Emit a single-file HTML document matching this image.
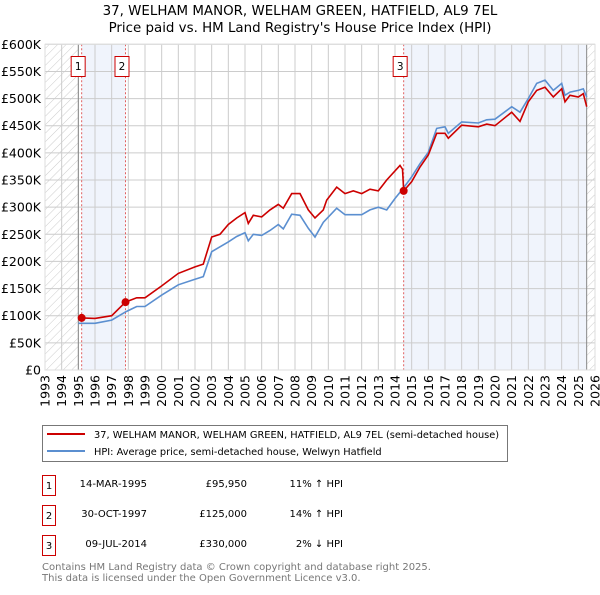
<!DOCTYPE html>
<html><head><meta charset="utf-8"><style>
body{margin:0;background:#fff;font-family:"Liberation Sans","DejaVu Sans",sans-serif;}
svg text{font-family:"DejaVu Sans","Liberation Sans",sans-serif;}
</style></head><body>
<svg id="c" width="600" height="590" xmlns="http://www.w3.org/2000/svg">
<defs><pattern id="h" width="6" height="6" patternUnits="userSpaceOnUse" patternTransform="rotate(45)"><line x1="0" y1="0" x2="0" y2="6" stroke="#ccc" stroke-width="1"/></pattern></defs>
<text x="300" y="15" text-anchor="middle" font-size="13.4">37, WELHAM MANOR, WELHAM GREEN, HATFIELD, AL9 7EL</text>
<text x="300" y="32" text-anchor="middle" font-size="13.4">Price paid vs. HM Land Registry's House Price Index (HPI)</text>
<g id="plot"></g>
<g>
<rect x="42.5" y="425.5" width="465" height="36" fill="#fff" stroke="#777"/>
<line x1="47" y1="434" x2="85" y2="434" stroke="#cc0000" stroke-width="2"/>
<text x="94" y="438" font-size="9.8">37, WELHAM MANOR, WELHAM GREEN, HATFIELD, AL9 7EL (semi-detached house)</text>
<line x1="47" y1="451" x2="85" y2="451" stroke="#5b8fd0" stroke-width="2"/>
<text x="94" y="455" font-size="9.8">HPI: Average price, semi-detached house, Welwyn Hatfield</text>
</g>
<g font-size="10">
<rect x="42.5" y="475.5" width="13" height="20" fill="none" stroke="#cc0000"/><text x="49" y="489" text-anchor="middle">1</text>
<text x="147" y="487" text-anchor="end">14-MAR-1995</text><text x="247" y="487" text-anchor="end">£95,950</text><text x="343" y="487" text-anchor="end">11% ↑ HPI</text>
<rect x="42.5" y="505.5" width="13" height="20" fill="none" stroke="#cc0000"/><text x="49" y="519" text-anchor="middle">2</text>
<text x="147" y="517" text-anchor="end">30-OCT-1997</text><text x="247" y="517" text-anchor="end">£125,000</text><text x="343" y="517" text-anchor="end">14% ↑ HPI</text>
<rect x="42.5" y="535.5" width="13" height="20" fill="none" stroke="#cc0000"/><text x="49" y="549" text-anchor="middle">3</text>
<text x="147" y="547" text-anchor="end">09-JUL-2014</text><text x="247" y="547" text-anchor="end">£330,000</text><text x="343" y="547" text-anchor="end">2% ↓ HPI</text>
</g>
<text x="42" y="570" font-size="10" fill="#777">Contains HM Land Registry data © Crown copyright and database right 2025.</text>
<text x="42" y="581" font-size="10" fill="#777">This data is licensed under the Open Government Licence v3.0.</text>
</svg>
<script>
const hpiYears=[1995,1996,1997,1997.83,1998.5,1999,2000,2001,2002,2002.5,2003,2004,2004.5,2005,2005.2,2005.5,2006,2006.5,2007,2007.3,2007.8,2008.3,2008.8,2009.2,2009.7,2010.5,2011,2012,2012.5,2013,2013.5,2014,2014.5,2015,2015.5,2016,2016.5,2017,2017.2,2018,2019,2019.5,2020,2021,2021.5,2022,2022.5,2023,2023.5,2024,2024.2,2024.5,2025,2025.3,2025.5];
const hpiValues=[86,86,92,107,117,117,138,157,167,172,218,236,246,253,238,250,248,257,268,260,287,285,261,245,272,298,286,286,295,300,295,316,335,356,380,401,445,448,436,457,455,461,462,485,475,500,528,534,515,528,506,512,515,518,503];
const propYears=[1995.2,1996,1997,1997.83,1998.5,1999,2000,2001,2002,2002.5,2003,2003.5,2004,2004.5,2005,2005.2,2005.5,2006,2006.5,2007,2007.3,2007.8,2008.3,2008.8,2009.2,2009.7,2009.9,2010.5,2011,2011.5,2012,2012.5,2013,2013.5,2014.3,2014.45,2014.52,2015,2015.5,2016,2016.5,2017,2017.2,2018,2019,2019.5,2020,2021,2021.5,2022,2022.5,2023,2023.5,2024,2024.2,2024.5,2025,2025.3,2025.5];
const propValues=[96,95,100,125,133,133,155,178,190,195,245,250,268,280,290,270,285,282,295,305,298,325,325,295,280,295,313,337,325,330,325,333,330,350,377,370,330,347,374,396,436,436,427,451,448,453,450,475,458,494,515,521,503,518,494,506,503,509,485];
const saleYears=[1995.2,1997.83,2014.52];
const salePrices=[95.95,125,330];
const saleLabels=["1","2","3"];
const yTicks=[0,50,100,150,200,250,300,350,400,450,500,550,600];
const yTickLabels=["£0","£50K","£100K","£150K","£200K","£250K","£300K","£350K","£400K","£450K","£500K","£550K","£600K"];
const xTicks=[1993,1994,1995,1996,1997,1998,1999,2000,2001,2002,2003,2004,2005,2006,2007,2008,2009,2010,2011,2012,2013,2014,2015,2016,2017,2018,2019,2020,2021,2022,2023,2024,2025,2026];
const X0=45,X1=595,Y0=370,Y1=44.3;
const xs=y=>X0+(y-1993)/(2026-1993)*(X1-X0);
const ys=v=>Y0-v/600*(Y0-Y1);
const NS="http://www.w3.org/2000/svg";
const g=document.getElementById('plot');
function mk(t,a,p){const e=document.createElementNS(NS,t);for(const k in a)e.setAttribute(k,a[k]);(p||g).appendChild(e);return e;}
let e;
e=mk('rect',{x:xs(1995.2),y:Y1,width:xs(1997.83)-xs(1995.2),height:Y0-Y1,fill:'#f0f4fc'});


e=mk('rect',{x:xs(2014.52),y:Y1,width:xs(2025.5)-xs(2014.52),height:Y0-Y1,fill:'#f0f4fc'});


e=mk('rect',{x:X0,y:Y1,width:xs(1995)-X0,height:Y0-Y1,fill:'url(#h)'});


e=mk('rect',{x:xs(2025.5),y:Y1,width:X1-xs(2025.5),height:Y0-Y1,fill:'url(#h)'});


yTicks.forEach((v,i)=>{
 e=mk('line',{x1:X0,x2:X1,y1:ys(v),y2:ys(v),stroke:'#ccc','stroke-width':1});
 
 
 e=mk('text',{x:X0-4,y:ys(v)+4.5,'text-anchor':'end','font-size':12.5});
 e.textContent=yTickLabels[i];
 
 
});
xTicks.forEach(v=>{
 e=mk('line',{x1:xs(v),x2:xs(v),y1:Y1,y2:Y0,stroke:'#ccc','stroke-width':1});
 
 
 e=mk('text',{x:0,y:0,'text-anchor':'end','font-size':12.5,transform:`translate(${xs(v)+4.5},375) rotate(-90)`});
 e.textContent=v;
 
 
});
e=mk('line',{x1:xs(1995),x2:xs(1995),y1:Y1,y2:Y0,stroke:'#888'});


e=mk('line',{x1:xs(2025.5),x2:xs(2025.5),y1:Y1,y2:Y0,stroke:'#888'});


saleYears.forEach((yr,i)=>{
 e=mk('line',{x1:xs(yr),x2:xs(yr),y1:Y1,y2:Y0,stroke:'#e06060','stroke-dasharray':'2,2'});
 
 
 e=mk('rect',{x:xs(yr)-10.5,y:56.5,width:14,height:20,fill:'#fff',stroke:'#cc0000'});
 
 
 e=mk('text',{x:xs(yr)-3.5,y:70,'text-anchor':'middle','font-size':10.5});
 e.textContent=saleLabels[i];
 
 
});
const path=(X,V)=>X.map((x,i)=>(i?'L':'M')+xs(x).toFixed(1)+','+ys(V[i]).toFixed(1)).join('');
e=mk('path',{d:path(hpiYears,hpiValues),fill:'none',stroke:'#5b8fd0','stroke-width':1.6});


e=mk('path',{d:path(propYears,propValues),fill:'none',stroke:'#cc0000','stroke-width':1.6});


saleYears.forEach((yr,i)=>{
 e=mk('circle',{cx:xs(yr),cy:ys(salePrices[i]),r:4,fill:'#cc0000'});
 
 
});
e=mk('rect',{x:X0,y:Y1,width:X1-X0,height:Y0-Y1,fill:'none',stroke:'#ddd'});


</script>
</body></html>
